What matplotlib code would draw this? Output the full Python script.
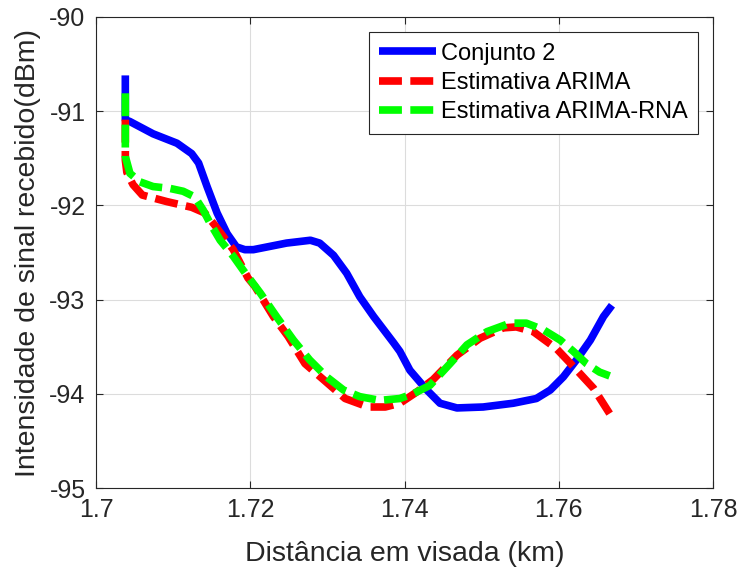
import numpy as np
import matplotlib
matplotlib.use("Agg")
import matplotlib.pyplot as plt

plt.rcParams["font.family"] = ["Liberation Sans", "DejaVu Sans"]

# Conjunto 2 (medido)
dist_med = [1.7038, 1.7038, 1.7044, 1.7074, 1.7105, 1.7124, 1.7133, 1.7144, 1.7157,
            1.7170, 1.7182, 1.7193, 1.7204, 1.7247, 1.7278, 1.7290, 1.7308, 1.7325,
            1.7342, 1.7360, 1.7386, 1.7394, 1.7407, 1.7429, 1.7446, 1.7468, 1.7502,
            1.7541, 1.7571, 1.7589, 1.7606, 1.7623, 1.7641, 1.7658, 1.7669]
sinal_med = [-90.62, -91.09, -91.11, -91.24, -91.34, -91.45, -91.55, -91.80, -92.08,
             -92.30, -92.44, -92.47, -92.47, -92.40, -92.37, -92.40, -92.53, -92.72,
             -92.97, -93.18, -93.46, -93.55, -93.75, -93.96, -94.10, -94.15, -94.14,
             -94.10, -94.05, -93.96, -93.82, -93.64, -93.43, -93.18, -93.06]

# Estimativa ARIMA
dist_arima = [1.7038, 1.7038, 1.7040, 1.7048, 1.7060, 1.7092, 1.7124, 1.7141, 1.7154,
              1.7165, 1.7178, 1.7197, 1.7206, 1.7230, 1.7249, 1.7271, 1.7295, 1.7323,
              1.7353, 1.7375, 1.7394, 1.7416, 1.7437, 1.7468, 1.7498, 1.7528, 1.7545,
              1.7567, 1.7597, 1.7619, 1.7645, 1.7666]
sinal_arima = [-91.09, -91.52, -91.65, -91.78, -91.89, -91.96, -92.02, -92.08, -92.21,
               -92.33, -92.47, -92.77, -92.86, -93.18, -93.39, -93.68, -93.85, -94.05,
               -94.14, -94.14, -94.10, -93.98, -93.85, -93.59, -93.41, -93.30, -93.29,
               -93.34, -93.52, -93.71, -93.94, -94.21]

# Estimativa ARIMA-RNA
dist_rna = [1.7038, 1.7038, 1.7038, 1.7044, 1.7057, 1.7074, 1.7096, 1.7113, 1.7128,
            1.7139, 1.7148, 1.7161, 1.7178, 1.7191, 1.7213, 1.7234, 1.7256, 1.7277,
            1.7299, 1.7321, 1.7342, 1.7368, 1.7394, 1.7411, 1.7433, 1.7459, 1.7481,
            1.7507, 1.7537, 1.7558, 1.7580, 1.7602, 1.7619, 1.7636, 1.7653, 1.7666]
sinal_rna = [-90.81, -91.34, -91.48, -91.66, -91.75, -91.80, -91.82, -91.85, -91.91,
             -92.05, -92.19, -92.37, -92.54, -92.69, -92.93, -93.18, -93.43, -93.64,
             -93.82, -93.96, -94.03, -94.07, -94.05, -94.00, -93.91, -93.68, -93.48,
             -93.34, -93.25, -93.25, -93.32, -93.43, -93.55, -93.68, -93.77, -93.81]

fig = plt.figure(figsize=(7.42, 5.74), dpi=100)
ax = fig.add_axes([0.1294, 0.1498, 0.8315, 0.8206])

estilo = dict(lw=5.5, solid_joinstyle="round", dash_joinstyle="round")
ax.plot(dist_med, sinal_med, color="#0000ff", label="Conjunto 2",
        solid_capstyle="butt", **estilo)
ax.plot(dist_arima, sinal_arima, color="#ff0000", ls=(0, (3, 1.1)),
        label="Estimativa ARIMA", **estilo)
ax.plot(dist_rna, sinal_rna, color="#00ff00", ls=(0, (3, 1.1)),
        label="Estimativa ARIMA-RNA", **estilo)

ax.set_xlim(1.7, 1.78)
ax.set_ylim(-95, -90)
ax.set_xticks([1.7, 1.72, 1.74, 1.76, 1.78])
ax.set_xticklabels(["1.7", "1.72", "1.74", "1.76", "1.78"])
ax.set_yticks([-95, -94, -93, -92, -91, -90])
ax.set_yticklabels(["-95", "-94", "-93", "-92", "-91", "-90"])

ax.grid(True, color="#dcdcdc", lw=0.8)
ax.set_axisbelow(True)
ax.tick_params(direction="in", top=True, right=True, labelsize=18, length=5,
               width=0.8, colors="#262626")
ax.tick_params(axis="x", pad=7)
ax.tick_params(axis="y", pad=7.5)
for sp in ax.spines.values():
    sp.set_color("#262626")
    sp.set_linewidth(0.8)

ax.set_xlabel("Distância em visada (km)", fontsize=20.5, color="#262626", labelpad=14)
ax.set_ylabel("Intensidade de sinal recebido(dBm)", fontsize=20.5, color="#262626",
              labelpad=6)

leg = ax.legend(loc="upper right", bbox_to_anchor=(0.9756, 0.968), borderaxespad=0,
                fontsize=17, handlelength=2.4, handletextpad=0.2, borderpad=0.45,
                labelspacing=0.31, fancybox=False, framealpha=1)
leg.get_frame().set_edgecolor("#262626")
leg.get_frame().set_linewidth(0.8)

fig.savefig("out.png", dpi=100)
